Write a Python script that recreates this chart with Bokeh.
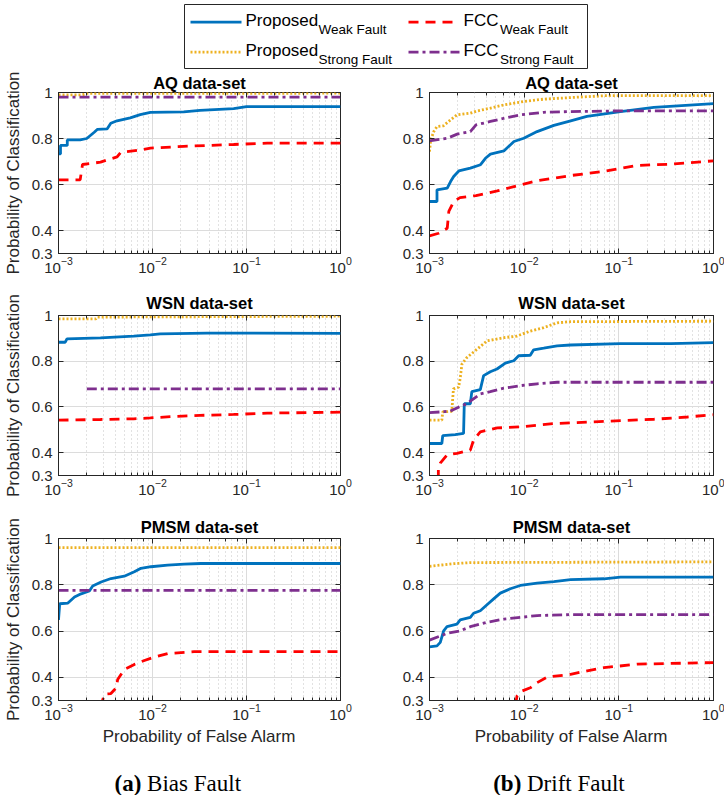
from bokeh.plotting import figure
from bokeh.layouts import column, row
from bokeh.models import (Range1d, FixedTicker, CustomJSTickFormatter, LogAxis, LinearAxis, LogTicker)
from bokeh.embed import file_html
from bokeh.resources import INLINE
from bokeh.core.properties import value

FONT = "Liberation Sans"
SERIF = "Liberation Serif"
INK = "#262626"
BLUE = "#0072BD"
ORANGE = "#EDB120"
RED = "#FF0000"
PURPLE = "#7E2F8E"

# ---------------- data: (Pfa, Pd) ----------------
# (a) Bias fault, AQ data-set
bias_aq_pw_pfa = [0.001, 0.00105, 0.00105, 0.00124, 0.00124, 0.0017, 0.002, 0.0024, 0.0026, 0.0033, 0.0036, 0.0042, 0.0058, 0.0074, 0.0095, 0.0215, 0.032, 0.073, 0.1, 1.0]
bias_aq_pw_pd = [0.733, 0.733, 0.77, 0.77, 0.794, 0.794, 0.80, 0.827, 0.84, 0.842, 0.866, 0.877, 0.89, 0.904, 0.914, 0.916, 0.922, 0.93, 0.939, 0.939]
bias_aq_fw_pfa = [0.001, 0.0017, 0.0018, 0.0028, 0.0033, 0.0042, 0.0046, 0.0074, 0.0095, 0.0215, 0.073, 0.166, 1.0]
bias_aq_fw_pd = [0.62, 0.62, 0.687, 0.697, 0.707, 0.72, 0.74, 0.75, 0.758, 0.766, 0.774, 0.78, 0.78]
bias_aq_ps_pfa = [0.001, 0.0018, 0.002, 1.0]
bias_aq_ps_pd = [0.99, 0.99, 0.996, 0.997]
bias_aq_fs_pfa = [0.001, 1.0]
bias_aq_fs_pd = [0.98, 0.98]

# (a) Bias fault, WSN data-set
bias_wsn_pw_pfa = [0.001, 0.00118, 0.00123, 0.0028, 0.0063, 0.0095, 0.0121, 0.038, 1.0]
bias_wsn_pw_pd = [0.883, 0.883, 0.898, 0.902, 0.91, 0.915, 0.92, 0.923, 0.922]
bias_wsn_fw_pfa = [0.001, 0.0028, 0.0063, 0.0095, 0.0168, 0.032, 0.073, 0.166, 1.0]
bias_wsn_fw_pd = [0.542, 0.545, 0.548, 0.552, 0.558, 0.563, 0.567, 0.573, 0.577]
bias_wsn_ps_pfa = [0.001, 0.0025, 0.0026, 1.0]
bias_wsn_ps_pd = [0.985, 0.985, 0.993, 0.997]
bias_wsn_fs_pfa = [0.002, 1.0]
bias_wsn_fs_pd = [0.679, 0.679]

# (a) Bias fault, PMSM data-set
bias_pmsm_pw_pfa = [0.001, 0.00103, 0.00126, 0.00148, 0.00174, 0.00213, 0.00231, 0.00284, 0.00362, 0.00501, 0.00641, 0.00753, 0.00962, 0.0145, 0.0217, 0.0327, 1.0]
bias_pmsm_pw_pd = [0.648, 0.718, 0.721, 0.747, 0.761, 0.773, 0.795, 0.812, 0.827, 0.837, 0.856, 0.871, 0.878, 0.885, 0.889, 0.892, 0.892]
bias_pmsm_fw_pfa = [0.0028, 0.00308, 0.00361, 0.0041, 0.00426, 0.00501, 0.00641, 0.0082, 0.01, 0.0145, 0.0277, 1.0]
bias_pmsm_fw_pd = [0.27, 0.328, 0.33, 0.354, 0.391, 0.434, 0.456, 0.473, 0.485, 0.503, 0.511, 0.511]
bias_pmsm_ps_pfa = [0.001, 1.0]
bias_pmsm_ps_pd = [0.961, 0.961]
bias_pmsm_fs_pfa = [0.001, 1.0]
bias_pmsm_fs_pd = [0.776, 0.776]

# (b) Drift fault, AQ data-set
drift_aq_pw_pfa = [0.001, 0.0012, 0.0012, 0.00154, 0.00167, 0.0018, 0.00204, 0.0027, 0.00346, 0.0039, 0.0044, 0.0061, 0.0078, 0.0099, 0.0137, 0.0206, 0.031, 0.046, 0.104, 0.234, 1.0]
drift_aq_pw_pd = [0.526, 0.526, 0.577, 0.584, 0.613, 0.635, 0.659, 0.671, 0.686, 0.714, 0.732, 0.746, 0.787, 0.801, 0.83, 0.857, 0.877, 0.896, 0.917, 0.935, 0.952]
drift_aq_fw_pfa = [0.001, 0.00125, 0.00154, 0.0016, 0.0018, 0.0021, 0.0031, 0.0052, 0.0078, 0.0137, 0.031, 0.07, 0.156, 0.35, 1.0]
drift_aq_fw_pd = [0.377, 0.388, 0.41, 0.483, 0.526, 0.543, 0.552, 0.572, 0.591, 0.616, 0.639, 0.657, 0.683, 0.688, 0.703]
drift_aq_ps_pfa = [0.001, 0.00103, 0.00111, 0.0012, 0.0014, 0.00167, 0.00196, 0.0027, 0.0032, 0.0044, 0.0061, 0.0099, 0.0161, 0.031, 0.07, 1.0]
drift_aq_ps_pd = [0.743, 0.794, 0.83, 0.852, 0.855, 0.881, 0.903, 0.91, 0.92, 0.932, 0.946, 0.961, 0.971, 0.978, 0.986, 0.986]
drift_aq_fs_pfa = [0.001, 0.00154, 0.00196, 0.0027, 0.0031, 0.0044, 0.0061, 0.0091, 0.0161, 0.031, 0.104, 1.0]
drift_aq_fs_pd = [0.79, 0.801, 0.819, 0.83, 0.859, 0.874, 0.888, 0.903, 0.914, 0.917, 0.92, 0.92]

# (b) Drift fault, WSN data-set
drift_wsn_pw_pfa = [0.001, 0.00135, 0.00138, 0.00187, 0.00229, 0.00233, 0.0027, 0.0028, 0.00344, 0.00373, 0.00439, 0.00516, 0.00633, 0.00776, 0.00875, 0.0116, 0.0126, 0.0161, 0.0223, 0.031, 0.104, 0.354, 1.0]
drift_wsn_pw_pd = [0.44, 0.44, 0.474, 0.479, 0.484, 0.614, 0.614, 0.667, 0.676, 0.737, 0.754, 0.766, 0.792, 0.802, 0.824, 0.826, 0.85, 0.857, 0.867, 0.871, 0.877, 0.877, 0.881]
drift_wsn_fw_pfa = [0.00124, 0.00124, 0.0013, 0.00153, 0.00195, 0.0027, 0.00292, 0.00344, 0.0052, 0.0092, 0.0206, 0.0697, 0.235, 0.53, 1.0]
drift_wsn_fw_pd = [0.28, 0.325, 0.354, 0.39, 0.397, 0.411, 0.455, 0.491, 0.508, 0.513, 0.527, 0.537, 0.546, 0.556, 0.566]
drift_wsn_ps_pfa = [0.001, 0.00135, 0.00138, 0.00172, 0.00179, 0.00203, 0.00211, 0.0022, 0.00248, 0.00317, 0.00405, 0.0061, 0.0084, 0.0116, 0.0161, 0.0223, 0.031, 1.0]
drift_wsn_ps_pd = [0.542, 0.542, 0.578, 0.581, 0.679, 0.686, 0.725, 0.787, 0.816, 0.852, 0.889, 0.903, 0.91, 0.932, 0.947, 0.968, 0.973, 0.975]
drift_wsn_fs_pfa = [0.001, 0.00165, 0.00203, 0.00248, 0.00344, 0.00439, 0.0061, 0.0091, 0.0137, 0.0223, 1.0]
drift_wsn_fs_pd = [0.575, 0.581, 0.599, 0.614, 0.657, 0.667, 0.682, 0.693, 0.701, 0.708, 0.708]

# (b) Drift fault, PMSM data-set
drift_pmsm_pw_pfa = [0.001, 0.0012, 0.0013, 0.00141, 0.00153, 0.00195, 0.00211, 0.0027, 0.00292, 0.00344, 0.00405, 0.00476, 0.0056, 0.00714, 0.00912, 0.0137, 0.0206, 0.0309, 0.0697, 0.104, 1.0]
drift_pmsm_pw_pd = [0.532, 0.536, 0.551, 0.601, 0.619, 0.63, 0.648, 0.659, 0.677, 0.688, 0.714, 0.739, 0.764, 0.783, 0.797, 0.807, 0.814, 0.822, 0.826, 0.833, 0.833]
drift_pmsm_fw_pfa = [0.0081, 0.0084, 0.0091, 0.0116, 0.0137, 0.0175, 0.0309, 0.0463, 0.0697, 0.157, 1.0]
drift_pmsm_fw_pd = [0.28, 0.319, 0.338, 0.355, 0.377, 0.401, 0.413, 0.428, 0.442, 0.457, 0.464]
drift_pmsm_ps_pfa = [0.001, 0.0018, 0.0027, 1.0]
drift_pmsm_ps_pd = [0.88, 0.891, 0.896, 0.899]
drift_pmsm_fs_pfa = [0.001, 0.00153, 0.00211, 0.0027, 0.00405, 0.0061, 0.0091, 0.0137, 0.0309, 1.0]
drift_pmsm_fs_pd = [0.561, 0.59, 0.601, 0.619, 0.638, 0.652, 0.659, 0.667, 0.671, 0.671]

panel_titles = ["AQ data-set", "WSN data-set", "PMSM data-set"]
y_ticks = [0.3, 0.4, 0.6, 0.8, 1.0]
x_label = "Probability of False Alarm"
y_label = "Probability of Classification"
captions = [("(a)", "Bias Fault"), ("(b)", "Drift Fault")]

# series styles, in MATLAB plotting order
STYLES = [
    dict(color=BLUE, dash="solid"),          # Proposed weak
    dict(color=RED, dash="10 7"),            # FCC weak
    dict(color=ORANGE, dash="2 2"),          # Proposed strong
    dict(color=PURPLE, dash="10 4 3 4"),     # FCC strong
]
LW = 2.8

bias_curves = [
    [(bias_aq_pw_pfa, bias_aq_pw_pd), (bias_aq_fw_pfa, bias_aq_fw_pd), (bias_aq_ps_pfa, bias_aq_ps_pd), (bias_aq_fs_pfa, bias_aq_fs_pd)],
    [(bias_wsn_pw_pfa, bias_wsn_pw_pd), (bias_wsn_fw_pfa, bias_wsn_fw_pd), (bias_wsn_ps_pfa, bias_wsn_ps_pd), (bias_wsn_fs_pfa, bias_wsn_fs_pd)],
    [(bias_pmsm_pw_pfa, bias_pmsm_pw_pd), (bias_pmsm_fw_pfa, bias_pmsm_fw_pd), (bias_pmsm_ps_pfa, bias_pmsm_ps_pd), (bias_pmsm_fs_pfa, bias_pmsm_fs_pd)],
]
drift_curves = [
    [(drift_aq_pw_pfa, drift_aq_pw_pd), (drift_aq_fw_pfa, drift_aq_fw_pd), (drift_aq_ps_pfa, drift_aq_ps_pd), (drift_aq_fs_pfa, drift_aq_fs_pd)],
    [(drift_wsn_pw_pfa, drift_wsn_pw_pd), (drift_wsn_fw_pfa, drift_wsn_fw_pd), (drift_wsn_ps_pfa, drift_wsn_ps_pd), (drift_wsn_fs_pfa, drift_wsn_fs_pd)],
    [(drift_pmsm_pw_pfa, drift_pmsm_pw_pd), (drift_pmsm_fw_pfa, drift_pmsm_fw_pd), (drift_pmsm_ps_pfa, drift_pmsm_ps_pd), (drift_pmsm_fs_pfa, drift_pmsm_fs_pd)],
]

ROW_GEOM = [  # (height, top border, bottom border, title standoff)
    (216, 23, 32, 2),
    (220, 30, 30, 7),
    (247, 33, 52, 6),
]

Y_FMT = CustomJSTickFormatter(code="return Math.abs(tick - 1) < 1e-9 ? '1' : tick.toFixed(1);")
BLANK_FMT = CustomJSTickFormatter(code="return '';")


def style_axis(ax):
    ax.axis_line_color = INK
    ax.axis_line_width = 1
    ax.major_tick_in = 5
    ax.major_tick_out = 0
    ax.minor_tick_in = 3
    ax.minor_tick_out = 0
    ax.major_tick_line_color = INK
    ax.minor_tick_line_color = INK
    ax.major_label_text_font = FONT
    ax.major_label_text_color = INK
    ax.major_label_text_font_size = "15px"
    ax.axis_label_text_font = FONT
    ax.axis_label_text_font_size = "17px"
    ax.axis_label_text_font_style = "normal"
    ax.axis_label_text_color = INK


def make_panel(title, curves, left_col, r):
    height, top_b, bot_b, t_standoff = ROW_GEOM[r]
    if left_col:
        mbl, mbr = 57, 22
    else:
        mbl, mbr = 67, 11
    p = figure(width=362, height=height, x_axis_type="log",
               x_range=Range1d(1e-3, 1.0), y_range=Range1d(0.3, 1.0),
               output_backend="svg", toolbar_location=None,
               min_border_left=mbl, min_border_right=mbr,
               min_border_top=top_b, min_border_bottom=bot_b,
               background_fill_color="white", border_fill_color="white")
    p.title.text = title
    p.title.text_font = FONT
    p.title.text_font_size = "16.5px"
    p.title.text_font_style = "bold"
    p.title.text_color = "black"
    p.title.align = "center"
    p.title.standoff = t_standoff
    p.outline_line_color = INK
    p.outline_line_width = 1

    xa = p.xaxis[0]
    style_axis(xa)
    xa.major_label_standoff = 3
    if r == 2:
        xa.axis_label = x_label
        xa.axis_label_standoff = 4
    ya = p.yaxis[0]
    style_axis(ya)
    ya.ticker = FixedTicker(ticks=y_ticks, minor_ticks=[])
    ya.formatter = Y_FMT
    ya.major_label_standoff = 6
    if left_col:
        ya.axis_label = y_label
        ya.axis_label_standoff = 6

    # box ticks on the top and right edges (no labels)
    top = LogAxis(ticker=LogTicker(), formatter=BLANK_FMT)
    style_axis(top)
    top.axis_line_color = None
    top.major_label_text_font_size = "1px"
    top.major_label_standoff = 0
    p.add_layout(top, "above")
    right = LinearAxis(ticker=FixedTicker(ticks=y_ticks, minor_ticks=[]), formatter=BLANK_FMT)
    style_axis(right)
    right.axis_line_color = None
    right.major_label_text_font_size = "1px"
    right.major_label_standoff = 0
    p.add_layout(right, "right")

    p.xgrid.grid_line_color = "#dcdcdc"
    p.xgrid.minor_grid_line_color = "#c4c4c4"
    p.xgrid.minor_grid_line_dash = "1 3"
    p.ygrid.ticker = FixedTicker(ticks=[0.4, 0.6, 0.8], minor_ticks=[])
    p.ygrid.grid_line_color = "#dcdcdc"

    for (pfa, pd), st in zip(curves, STYLES):
        p.line(pfa, pd, line_color=st["color"], line_width=LW, line_dash=st["dash"])
    return p


rows = []
for r in range(3):
    left = make_panel(panel_titles[r], bias_curves[r], True, r)
    right = make_panel(panel_titles[r], drift_curves[r], False, r)
    rows.append(row(left, right, spacing=0))


def blank_fig(h):
    f = figure(width=724, height=h, x_range=Range1d(0, 724), y_range=Range1d(h, 0),
               output_backend="svg", toolbar_location=None, min_border=0,
               background_fill_color="white", border_fill_color="white")
    f.axis.visible = False
    f.grid.visible = False
    f.outline_line_color = None
    return f


# legend
leg = blank_fig(69)
leg.quad(left=[184], right=[587], top=[4], bottom=[68], fill_color=None, line_color=INK, line_width=1)
leg_names = [("Proposed", "Weak Fault"), ("FCC", "Weak Fault"), ("Proposed", "Strong Fault"), ("FCC", "Strong Fault")]
leg_x0 = [190, 408, 190, 408]
leg_y = [21.7, 21.7, 51.7, 51.7]
leg_tx = [245, 463, 245, 463]
leg_sx = [318, 499.5, 318, 499.5]
for i, st in enumerate(STYLES):
    leg.line([leg_x0[i], leg_x0[i] + 51], [leg_y[i], leg_y[i]], line_color=st["color"], line_width=LW,
             line_dash=st["dash"])
    leg.text(x=[leg_tx[i]], y=[leg_y[i] - 1.8], text=[leg_names[i][0]], text_font=value(FONT),
             text_font_size="17px", text_baseline="alphabetic", text_color="black")
    leg.text(x=[leg_sx[i]], y=[leg_y[i] + 7.3], text=[leg_names[i][1]], text_font=value(FONT),
             text_font_size="13.5px", text_baseline="alphabetic", text_color="black")

# captions
cap = blank_fig(43)
cap_bold_x = [114, 492.7]
cap_rest_x = [146.6, 526.5]
for (bold, rest), bx, rx in zip(captions, cap_bold_x, cap_rest_x):
    cap.text(x=[bx], y=[31], text=[bold], text_font=value(SERIF), text_font_size="23px",
             text_font_style="bold", text_align="left", text_baseline="alphabetic", text_color="black")
    cap.text(x=[rx], y=[31], text=[rest], text_font=value(SERIF), text_font_size="23px",
             text_align="left", text_baseline="alphabetic", text_color="black")

layout = column(leg, rows[0], rows[1], rows[2], cap, spacing=0)

with open("out.html", "w") as fh:
    fh.write(file_html(layout, INLINE))
